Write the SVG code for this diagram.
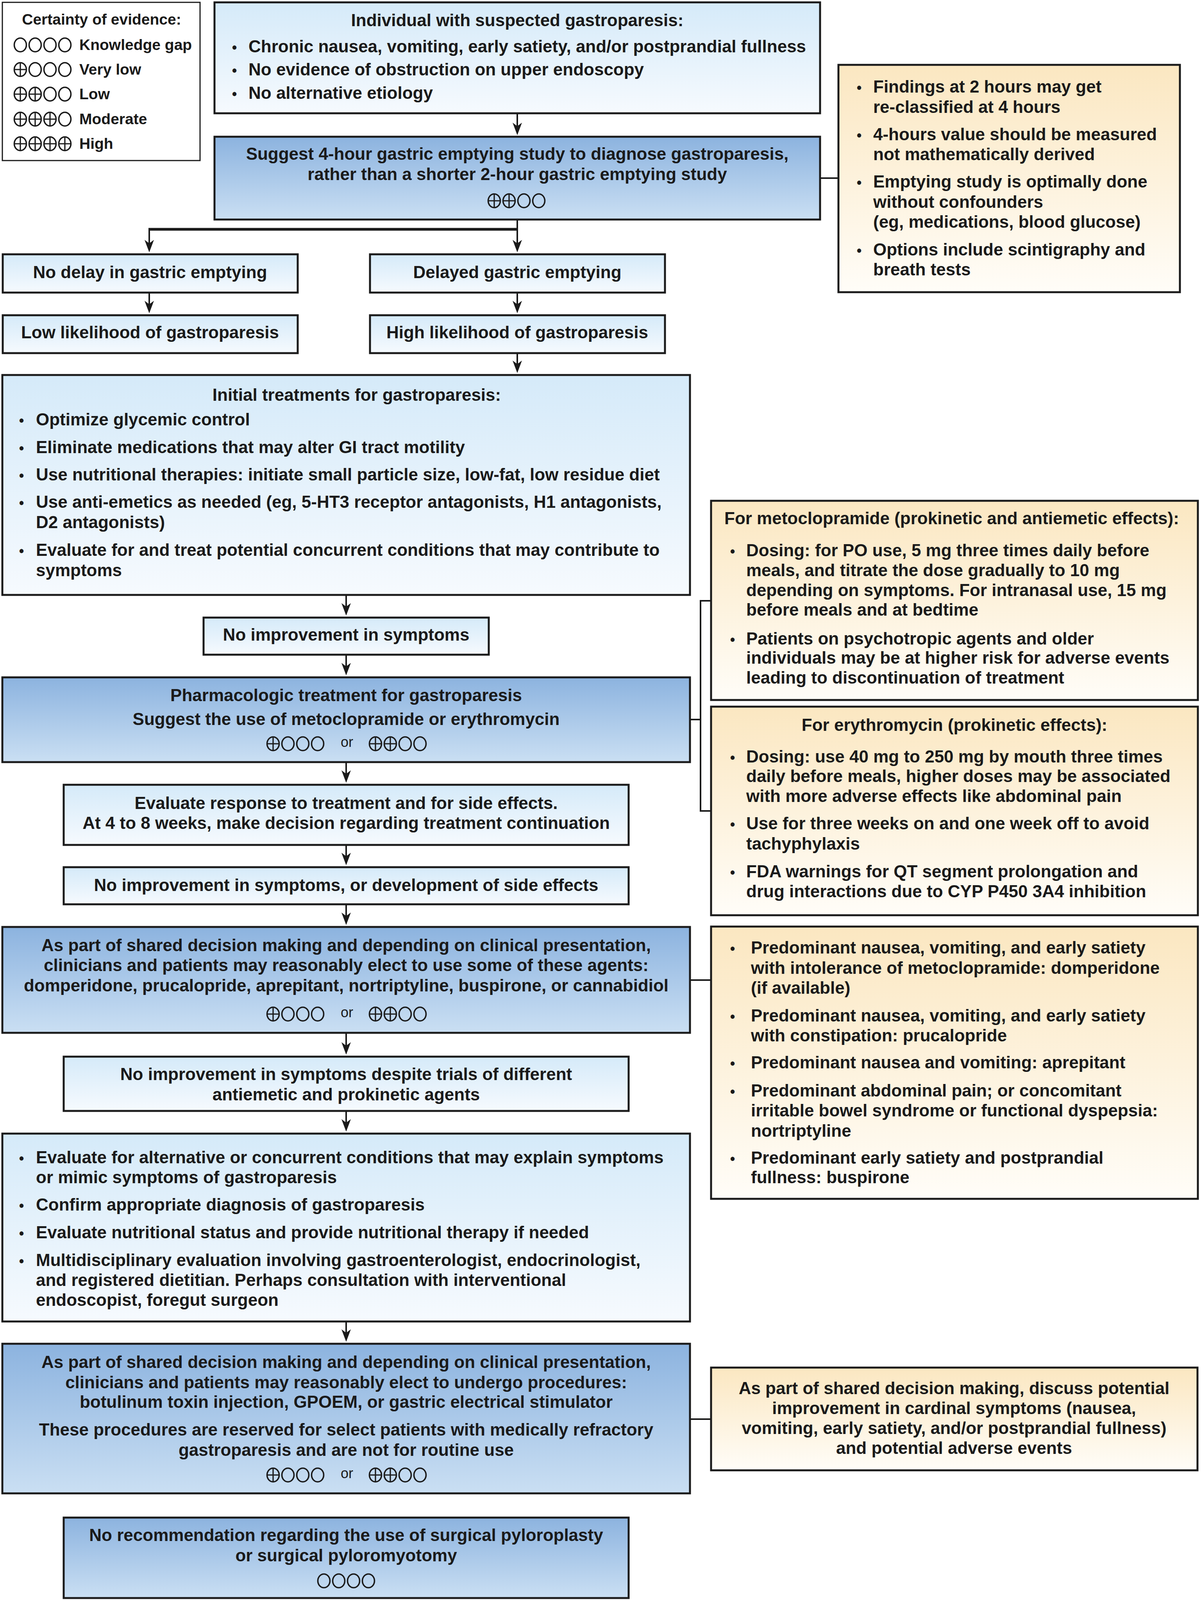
<svg xmlns="http://www.w3.org/2000/svg" width="3074" height="4097" viewBox="0 0 3074 4097">
<defs>
<linearGradient id="gLight" x1="0" y1="0" x2="0" y2="1"><stop offset="0" stop-color="#d5eaf9"/><stop offset="1" stop-color="#f6fafe"/></linearGradient>
<linearGradient id="gDark" x1="0" y1="0" x2="0" y2="1"><stop offset="0" stop-color="#8cb3df"/><stop offset="1" stop-color="#cadff3"/></linearGradient>
<linearGradient id="gYel" x1="0" y1="0" x2="0" y2="1"><stop offset="0" stop-color="#fbe7c1"/><stop offset="1" stop-color="#fffdf8"/></linearGradient>
<marker id="ah" viewBox="0 0 32 24" refX="22" refY="12" markerWidth="32" markerHeight="24" markerUnits="userSpaceOnUse" orient="auto"><path d="M0,0 L32,12 L0,24 L9,12 Z" fill="#1a1a1a"/></marker>
<g id="so"><ellipse cx="0" cy="0" rx="15.5" ry="17.5" fill="none" stroke="#1a1a1a" stroke-width="3.6"/></g>
<g id="sp"><ellipse cx="0" cy="0" rx="15.5" ry="17.5" fill="none" stroke="#1a1a1a" stroke-width="3.6"/><path d="M0,-17.5 V17.5 M-15.5,0 H15.5" stroke="#1a1a1a" stroke-width="3.2"/></g>
</defs>
<style>
.t{font-family:"Liberation Sans",Arial,sans-serif;font-weight:bold;font-size:44px;fill:#1a1a1a}
.c{text-anchor:middle}
.lg{font-size:39px}
.b{font-size:36px;text-anchor:middle}
.or{font-family:"Liberation Sans",Arial,sans-serif;font-weight:normal;font-size:36px;fill:#1a1a1a;text-anchor:middle}
.bl{fill:url(#gLight);stroke:#1a1a1a;stroke-width:5}
.bd{fill:url(#gDark);stroke:#1a1a1a;stroke-width:5}
.by{fill:url(#gYel);stroke:#1a1a1a;stroke-width:5}
.lgb{fill:#fff;stroke:#1a1a1a;stroke-width:3}
.ln{stroke:#1a1a1a;stroke-width:4;fill:none}
.ar{stroke:#1a1a1a;stroke-width:4;fill:none;marker-end:url(#ah)}
</style>
<rect width="3074" height="4097" fill="#fff"/>

<g id="legend">
<rect class="lgb" x="6" y="6" width="506" height="405"/>
<text class="t lg c" x="260" y="63">Certainty of evidence:</text>
<g><title>○○○○</title><use href="#so" x="52" y="115"/><use href="#so" x="90" y="115"/><use href="#so" x="128" y="115"/><use href="#so" x="166" y="115"/></g>
<text class="t lg" x="203" y="128">Knowledge gap</text>
<g><title>⊕○○○</title><use href="#sp" x="52" y="178"/><use href="#so" x="90" y="178"/><use href="#so" x="128" y="178"/><use href="#so" x="166" y="178"/></g>
<text class="t lg" x="203" y="191">Very low</text>
<g><title>⊕⊕○○</title><use href="#sp" x="52" y="241"/><use href="#sp" x="90" y="241"/><use href="#so" x="128" y="241"/><use href="#so" x="166" y="241"/></g>
<text class="t lg" x="203" y="254">Low</text>
<g><title>⊕⊕⊕○</title><use href="#sp" x="52" y="305"/><use href="#sp" x="90" y="305"/><use href="#sp" x="128" y="305"/><use href="#so" x="166" y="305"/></g>
<text class="t lg" x="203" y="318">Moderate</text>
<g><title>⊕⊕⊕⊕</title><use href="#sp" x="52" y="368"/><use href="#sp" x="90" y="368"/><use href="#sp" x="128" y="368"/><use href="#sp" x="166" y="368"/></g>
<text class="t lg" x="203" y="381">High</text>
</g>

<g id="connectors">
<line class="ar" x1="1324" y1="290" x2="1324" y2="336"/>
<line class="ln" x1="1324" y1="562" x2="1324" y2="590"/>
<line x1="380" y1="587" x2="1326" y2="587" stroke="#1a1a1a" stroke-width="7"/>
<line class="ar" x1="382" y1="585" x2="382" y2="636"/>
<line class="ar" x1="1324" y1="585" x2="1324" y2="636"/>
<line class="ar" x1="382" y1="749" x2="382" y2="792"/>
<line class="ar" x1="1324" y1="749" x2="1324" y2="792"/>
<line class="ar" x1="1324" y1="904" x2="1324" y2="945"/>
<line class="ar" x1="886" y1="1523" x2="886" y2="1566"/>
<line class="ar" x1="886" y1="1676" x2="886" y2="1719"/>
<line class="ar" x1="886" y1="1951" x2="886" y2="1994"/>
<line class="ar" x1="886" y1="2163" x2="886" y2="2205"/>
<line class="ar" x1="886" y1="2315" x2="886" y2="2358"/>
<line class="ar" x1="886" y1="2644" x2="886" y2="2690"/>
<line class="ar" x1="886" y1="2844" x2="886" y2="2887"/>
<line class="ar" x1="886" y1="3383" x2="886" y2="3425"/>
<line class="ln" x1="2099" y1="456" x2="2146" y2="456" stroke-width="5"/>
<line class="ln" x1="1766" y1="1842" x2="1793" y2="1842" stroke-width="5"/>
<path class="ln" d="M1820,1538 H1793 V2076 H1820"/>
<line class="ln" x1="1766" y1="2509" x2="1820" y2="2509" stroke-width="5"/>
<line class="ln" x1="1766" y1="3633" x2="1820" y2="3633" stroke-width="5"/>
</g>

<g id="n-suspected">
<rect class="bl" x="549" y="6" width="1550" height="284"/>
<text class="t c" x="1324" y="67">Individual with suspected gastroparesis:</text>
<text class="t b" x="600" y="134">•</text><text class="t" x="636" y="134">Chronic nausea, vomiting, early satiety, and/or postprandial fullness</text>
<text class="t b" x="600" y="193">•</text><text class="t" x="636" y="193">No evidence of obstruction on upper endoscopy</text>
<text class="t b" x="600" y="253">•</text><text class="t" x="636" y="253">No alternative etiology</text>
</g>

<g id="n-suggest-4h">
<rect class="bd" x="549" y="350" width="1550" height="212"/>
<text class="t c" x="1324" y="409">Suggest 4-hour gastric emptying study to diagnose gastroparesis,</text>
<text class="t c" x="1324" y="461">rather than a shorter 2-hour gastric emptying study</text>
<g><title>⊕⊕○○</title><use href="#sp" x="1265" y="514"/><use href="#sp" x="1303" y="514"/><use href="#so" x="1341" y="514"/><use href="#so" x="1379" y="514"/></g>
</g>

<g id="n-findings">
<rect class="by" x="2146" y="166" width="874" height="582"/>
<text class="t b" x="2199" y="237">•</text><text class="t" x="2235" y="237">Findings at 2 hours may get</text>
<text class="t" x="2235" y="289">re-classified at 4 hours</text>
<text class="t b" x="2199" y="359">•</text><text class="t" x="2235" y="359">4-hours value should be measured</text>
<text class="t" x="2235" y="410">not mathematically derived</text>
<text class="t b" x="2199" y="480">•</text><text class="t" x="2235" y="480">Emptying study is optimally done</text>
<text class="t" x="2235" y="532">without confounders</text>
<text class="t" x="2235" y="583">(eg, medications, blood glucose)</text>
<text class="t b" x="2199" y="654">•</text><text class="t" x="2235" y="654">Options include scintigraphy and</text>
<text class="t" x="2235" y="705">breath tests</text>
</g>

<g id="n-nodelay">
<rect class="bl" x="7" y="651" width="755" height="98"/>
<text class="t c" x="384" y="712">No delay in gastric emptying</text>
</g>
<g id="n-delayed">
<rect class="bl" x="947" y="651" width="755" height="98"/>
<text class="t c" x="1324" y="712">Delayed gastric emptying</text>
</g>
<g id="n-low">
<rect class="bl" x="7" y="807" width="755" height="97"/>
<text class="t c" x="384" y="866">Low likelihood of gastroparesis</text>
</g>
<g id="n-high">
<rect class="bl" x="947" y="807" width="755" height="97"/>
<text class="t c" x="1324" y="866">High likelihood of gastroparesis</text>
</g>

<g id="n-initial">
<rect class="bl" x="6" y="960" width="1760" height="563"/>
<text class="t c" x="913" y="1026">Initial treatments for gastroparesis:</text>
<text class="t b" x="55" y="1089">•</text><text class="t" x="92" y="1089">Optimize glycemic control</text>
<text class="t b" x="55" y="1160">•</text><text class="t" x="92" y="1160">Eliminate medications that may alter GI tract motility</text>
<text class="t b" x="55" y="1230">•</text><text class="t" x="92" y="1230">Use nutritional therapies: initiate small particle size, low-fat, low residue diet</text>
<text class="t b" x="55" y="1300">•</text><text class="t" x="92" y="1300">Use anti-emetics as needed (eg, 5-HT3 receptor antagonists, H1 antagonists,</text>
<text class="t" x="92" y="1352">D2 antagonists)</text>
<text class="t b" x="55" y="1423">•</text><text class="t" x="92" y="1423">Evaluate for and treat potential concurrent conditions that may contribute to</text>
<text class="t" x="92" y="1475">symptoms</text>
</g>

<g id="n-noimp1">
<rect class="bl" x="521" y="1581" width="730" height="95"/>
<text class="t c" x="886" y="1640">No improvement in symptoms</text>
</g>

<g id="n-pharma">
<rect class="bd" x="6" y="1734" width="1760" height="217"/>
<text class="t c" x="886" y="1795">Pharmacologic treatment for gastroparesis</text>
<text class="t c" x="886" y="1856">Suggest the use of metoclopramide or erythromycin</text>
<g><title>⊕○○○</title><use href="#sp" x="699" y="1904"/><use href="#so" x="737" y="1904"/><use href="#so" x="775" y="1904"/><use href="#so" x="813" y="1904"/></g>
<text class="or" x="888" y="1912">or</text>
<g><title>⊕⊕○○</title><use href="#sp" x="961" y="1904"/><use href="#sp" x="999" y="1904"/><use href="#so" x="1037" y="1904"/><use href="#so" x="1075" y="1904"/></g>
</g>

<g id="n-meto">
<rect class="by" x="1820" y="1282" width="1246" height="510"/>
<text class="t" x="1854" y="1342">For metoclopramide (prokinetic and antiemetic effects):</text>
<text class="t b" x="1875" y="1424">•</text><text class="t" x="1910" y="1424">Dosing: for PO use, 5 mg three times daily before</text>
<text class="t" x="1910" y="1475">meals, and titrate the dose gradually to 10 mg</text>
<text class="t" x="1910" y="1526">depending on symptoms. For intranasal use, 15 mg</text>
<text class="t" x="1910" y="1576">before meals and at bedtime</text>
<text class="t b" x="1875" y="1650">•</text><text class="t" x="1910" y="1650">Patients on psychotropic agents and older</text>
<text class="t" x="1910" y="1699">individuals may be at higher risk for adverse events</text>
<text class="t" x="1910" y="1750">leading to discontinuation of treatment</text>
</g>

<g id="n-ery">
<rect class="by" x="1820" y="1809" width="1246" height="534"/>
<text class="t c" x="2443" y="1871">For erythromycin (prokinetic effects):</text>
<text class="t b" x="1875" y="1952">•</text><text class="t" x="1910" y="1952">Dosing: use 40 mg to 250 mg by mouth three times</text>
<text class="t" x="1910" y="2002">daily before meals, higher doses may be associated</text>
<text class="t" x="1910" y="2053">with more adverse effects like abdominal pain</text>
<text class="t b" x="1875" y="2123">•</text><text class="t" x="1910" y="2123">Use for three weeks on and one week off to avoid</text>
<text class="t" x="1910" y="2175">tachyphylaxis</text>
<text class="t b" x="1875" y="2246">•</text><text class="t" x="1910" y="2246">FDA warnings for QT segment prolongation and</text>
<text class="t" x="1910" y="2297">drug interactions due to CYP P450 3A4 inhibition</text>
</g>

<g id="n-evalresp">
<rect class="bl" x="163" y="2009" width="1446" height="154"/>
<text class="t c" x="886" y="2071">Evaluate response to treatment and for side effects.</text>
<text class="t c" x="886" y="2122">At 4 to 8 weeks, make decision regarding treatment continuation</text>
</g>

<g id="n-noimp2">
<rect class="bl" x="163" y="2220" width="1446" height="95"/>
<text class="t c" x="886" y="2281">No improvement in symptoms, or development of side effects</text>
</g>

<g id="n-agents">
<rect class="bd" x="6" y="2373" width="1760" height="271"/>
<text class="t c" x="886" y="2435">As part of shared decision making and depending on clinical presentation,</text>
<text class="t c" x="886" y="2486">clinicians and patients may reasonably elect to use some of these agents:</text>
<text class="t c" x="886" y="2538">domperidone, prucalopride, aprepitant, nortriptyline, buspirone, or cannabidiol</text>
<g><title>⊕○○○</title><use href="#sp" x="699" y="2596"/><use href="#so" x="737" y="2596"/><use href="#so" x="775" y="2596"/><use href="#so" x="813" y="2596"/></g>
<text class="or" x="888" y="2604">or</text>
<g><title>⊕⊕○○</title><use href="#sp" x="961" y="2596"/><use href="#sp" x="999" y="2596"/><use href="#so" x="1037" y="2596"/><use href="#so" x="1075" y="2596"/></g>
</g>

<g id="n-predominant">
<rect class="by" x="1820" y="2372" width="1246" height="697"/>
<text class="t b" x="1875" y="2441">•</text><text class="t" x="1922" y="2441">Predominant nausea, vomiting, and early satiety</text>
<text class="t" x="1922" y="2493">with intolerance of metoclopramide: domperidone</text>
<text class="t" x="1922" y="2544">(if available)</text>
<text class="t b" x="1875" y="2615">•</text><text class="t" x="1922" y="2615">Predominant nausea, vomiting, and early satiety</text>
<text class="t" x="1922" y="2666">with constipation: prucalopride</text>
<text class="t b" x="1875" y="2735">•</text><text class="t" x="1922" y="2735">Predominant nausea and vomiting: aprepitant</text>
<text class="t b" x="1875" y="2807">•</text><text class="t" x="1922" y="2807">Predominant abdominal pain; or concomitant</text>
<text class="t" x="1922" y="2858">irritable bowel syndrome or functional dyspepsia:</text>
<text class="t" x="1922" y="2910">nortriptyline</text>
<text class="t b" x="1875" y="2979">•</text><text class="t" x="1922" y="2979">Predominant early satiety and postprandial</text>
<text class="t" x="1922" y="3029">fullness: buspirone</text>
</g>

<g id="n-noimp3">
<rect class="bl" x="163" y="2705" width="1446" height="139"/>
<text class="t c" x="886" y="2765">No improvement in symptoms despite trials of different</text>
<text class="t c" x="886" y="2817">antiemetic and prokinetic agents</text>
</g>

<g id="n-evalalt">
<rect class="bl" x="6" y="2902" width="1760" height="481"/>
<text class="t b" x="55" y="2978">•</text><text class="t" x="92" y="2978">Evaluate for alternative or concurrent conditions that may explain symptoms</text>
<text class="t" x="92" y="3029">or mimic symptoms of gastroparesis</text>
<text class="t b" x="55" y="3099">•</text><text class="t" x="92" y="3099">Confirm appropriate diagnosis of gastroparesis</text>
<text class="t b" x="55" y="3170">•</text><text class="t" x="92" y="3170">Evaluate nutritional status and provide nutritional therapy if needed</text>
<text class="t b" x="55" y="3241">•</text><text class="t" x="92" y="3241">Multidisciplinary evaluation involving gastroenterologist, endocrinologist,</text>
<text class="t" x="92" y="3292">and registered dietitian. Perhaps consultation with interventional</text>
<text class="t" x="92" y="3343">endoscopist, foregut surgeon</text>
</g>

<g id="n-procedures">
<rect class="bd" x="6" y="3440" width="1760" height="383"/>
<text class="t c" x="886" y="3502">As part of shared decision making and depending on clinical presentation,</text>
<text class="t c" x="886" y="3554">clinicians and patients may reasonably elect to undergo procedures:</text>
<text class="t c" x="886" y="3604">botulinum toxin injection, GPOEM, or gastric electrical stimulator</text>
<text class="t c" x="886" y="3675">These procedures are reserved for select patients with medically refractory</text>
<text class="t c" x="886" y="3727">gastroparesis and are not for routine use</text>
<g><title>⊕○○○</title><use href="#sp" x="699" y="3776"/><use href="#so" x="737" y="3776"/><use href="#so" x="775" y="3776"/><use href="#so" x="813" y="3776"/></g>
<text class="or" x="888" y="3784">or</text>
<g><title>⊕⊕○○</title><use href="#sp" x="961" y="3776"/><use href="#sp" x="999" y="3776"/><use href="#so" x="1037" y="3776"/><use href="#so" x="1075" y="3776"/></g>
</g>

<g id="n-discuss">
<rect class="by" x="1820" y="3501" width="1245" height="263"/>
<text class="t c" x="2442" y="3569">As part of shared decision making, discuss potential</text>
<text class="t c" x="2442" y="3620">improvement in cardinal symptoms (nausea,</text>
<text class="t c" x="2442" y="3671">vomiting, early satiety, and/or postprandial fullness)</text>
<text class="t c" x="2442" y="3722">and potential adverse events</text>
</g>

<g id="n-surgical">
<rect class="bd" x="163" y="3885" width="1446" height="206"/>
<text class="t c" x="886" y="3945">No recommendation regarding the use of surgical pyloroplasty</text>
<text class="t c" x="886" y="3997">or surgical pyloromyotomy</text>
<g><title>○○○○</title><use href="#so" x="829" y="4047"/><use href="#so" x="867" y="4047"/><use href="#so" x="905" y="4047"/><use href="#so" x="943" y="4047"/></g>
</g>
</svg>
